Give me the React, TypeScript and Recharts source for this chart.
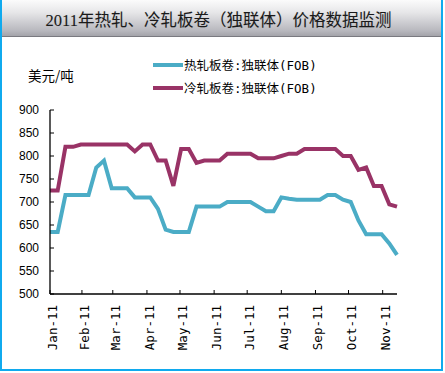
import React from "react";
import { LineChart, Line, XAxis, YAxis, Legend } from "recharts";

const dates = [
  "01-03", "01-10", "01-17", "01-24", "01-31", "02-07", "02-14", "02-21", "02-28",
  "03-07", "03-14", "03-21", "03-28", "04-04", "04-11", "04-18", "04-25",
  "05-02", "05-09", "05-16", "05-23", "05-30", "06-06", "06-13", "06-20", "06-27",
  "07-04", "07-11", "07-18", "07-25", "08-01", "08-08", "08-15", "08-22", "08-29",
  "09-05", "09-12", "09-19", "09-26", "10-03", "10-10", "10-17", "10-24", "10-31",
  "11-07", "11-14",
];

const hotRolled = [
  635, 635, 715, 715, 715, 715, 775, 790, 730, 730, 730, 710, 710, 710, 685, 640,
  635, 635, 635, 690, 690, 690, 690, 700, 700, 700, 700, 690, 680, 680, 710, 707,
  705, 705, 705, 705, 715, 715, 705, 700, 660, 630, 630, 630, 610, 585,
];

const coldRolled = [
  725, 725, 820, 820, 825, 825, 825, 825, 825, 825, 825, 810, 825, 825, 790, 790,
  735, 815, 815, 785, 790, 790, 790, 805, 805, 805, 805, 795, 795, 795, 800, 805,
  805, 815, 815, 815, 815, 815, 800, 800, 770, 775, 735, 735, 695, 690,
];

const monthStarts = ["01-01", "02-01", "03-01", "04-01", "05-01", "06-01", "07-01", "08-01", "09-01", "10-01", "11-01"];
const monthLabels = ["Jan-11", "Feb-11", "Mar-11", "Apr-11", "May-11", "Jun-11", "Jul-11", "Aug-11", "Sep-11", "Oct-11", "Nov-11"];
const yTicks = [500, 550, 600, 650, 700, 750, 800, 850, 900];

const seriesNames = ["热轧板卷:独联体(FOB)", "冷轧板卷:独联体(FOB)"];
const seriesColors = ["#4BACC6", "#993366"];

const dayOf = (s: string) => {
  const [m, d] = s.split("-").map(Number);
  return (Date.UTC(2011, m - 1, d) - Date.UTC(2011, 0, 1)) / 86400000;
};

const data = dates.map((s, i) => ({ day: dayOf(s), hot: hotRolled[i], cold: coldRolled[i] }));
const firstDay = data[0].day;
const lastDay = data[data.length - 1].day;
const xTicks = monthStarts.map((s) => Math.max(dayOf(s), firstDay));

const XTick = (props: any) => {
  const { x, y, payload } = props;
  const idx = xTicks.indexOf(payload.value);
  const label = idx >= 0 ? monthLabels[idx] : "";
  return (
    <text
      x={x + 2.5}
      y={y}
      transform={`rotate(-90, ${x + 2.5}, ${y})`}
      textAnchor="end"
      dominantBaseline="central"
      fontFamily="'DejaVu Sans Mono', 'Liberation Mono', monospace"
      fontSize={12.5}
      fill="#000"
    >
      {label}
    </text>
  );
};

const LegendContent = () => (
  <div style={{ fontFamily: "'DejaVu Sans Mono', 'Noto Sans CJK SC', monospace", fontSize: 12.5, color: "#000" }}>
    {seriesNames.map((n, i) => (
      <div key={n} style={{ display: "flex", alignItems: "center", height: 23 }}>
        <div style={{ width: 30, height: 4, background: seriesColors[i], marginRight: 1 }} />
        <span style={{ whiteSpace: "nowrap" }}>{n}</span>
      </div>
    ))}
  </div>
);

export default function App() {
  return (
    <div style={{ position: "absolute", left: 0, top: 0, width: 445, height: 373, background: "#fff", overflow: "hidden" }}>
      <div
        style={{
          position: "absolute",
          left: 0,
          top: 0,
          width: 443,
          height: 371,
          boxSizing: "border-box",
          borderLeft: "2px solid #10AAEE",
          borderRight: "2px solid #10AAEE",
          borderBottom: "2px solid #10AAEE",
        }}
      />
      <div
        style={{
          position: "absolute",
          left: 2,
          top: 0,
          width: 439,
          height: 36,
          background: "linear-gradient(#fbfbfb 0%, #e6e6e8 35%, #b8b8be 85%, #a4a4aa 100%)",
          borderBottom: "1px solid #7a7a80",
          display: "flex",
          alignItems: "center",
          justifyContent: "center",
        }}
      >
        <span
          style={{
            fontFamily: "'Liberation Serif', 'Noto Sans CJK SC', serif",
            fontSize: 16.5,
            color: "#1a1a1a",
            marginLeft: -6,
            marginTop: 2,
            textShadow: "0 0 1px rgba(0,0,0,0.15)",
          }}
        >
          2011年热轧、冷轧板卷（独联体）价格数据监测
        </span>
      </div>
      <div
        style={{
          position: "absolute",
          left: 28,
          top: 66,
          fontFamily: "'Noto Sans CJK SC', sans-serif",
          fontSize: 13.5,
          lineHeight: "18px",
          color: "#000",
        }}
      >
        美元/吨
      </div>
      <div style={{ position: "absolute", left: 0, top: 0 }}>
        <LineChart width={445} height={373} data={data} margin={{ top: 110, right: 48, bottom: 0, left: 0 }}>
          <XAxis
            dataKey="day"
            type="number"
            domain={[firstDay, lastDay]}
            ticks={xTicks}
            interval={0}
            height={79}
            tickSize={-4}
            tickMargin={15}
            tick={<XTick />}
            axisLine={{ stroke: "#000", strokeWidth: 1.3 }}
            tickLine={{ stroke: "#000" }}
          />
          <YAxis
            type="number"
            domain={[500, 900]}
            ticks={yTicks}
            interval={0}
            width={50}
            tickSize={-4}
            tickMargin={15}
            tick={{ fill: "#000", fontSize: 12, fontFamily: "'Liberation Sans', Arial, sans-serif" }}
            axisLine={{ stroke: "#000", strokeWidth: 1.3 }}
            tickLine={{ stroke: "#000" }}
          />
          <Legend
            layout="horizontal"
            verticalAlign="middle"
            align="center"
            content={<LegendContent />}
            wrapperStyle={{ position: "absolute", left: 153, top: 53, width: 200, bottom: "auto", right: "auto" }}
          />
          <Line
            type="linear"
            dataKey="hot"
            name={seriesNames[0]}
            stroke={seriesColors[0]}
            strokeWidth={4}
            dot={false}
            isAnimationActive={false}
          />
          <Line
            type="linear"
            dataKey="cold"
            name={seriesNames[1]}
            stroke={seriesColors[1]}
            strokeWidth={4}
            dot={false}
            isAnimationActive={false}
          />
        </LineChart>
      </div>
    </div>
  );
}
